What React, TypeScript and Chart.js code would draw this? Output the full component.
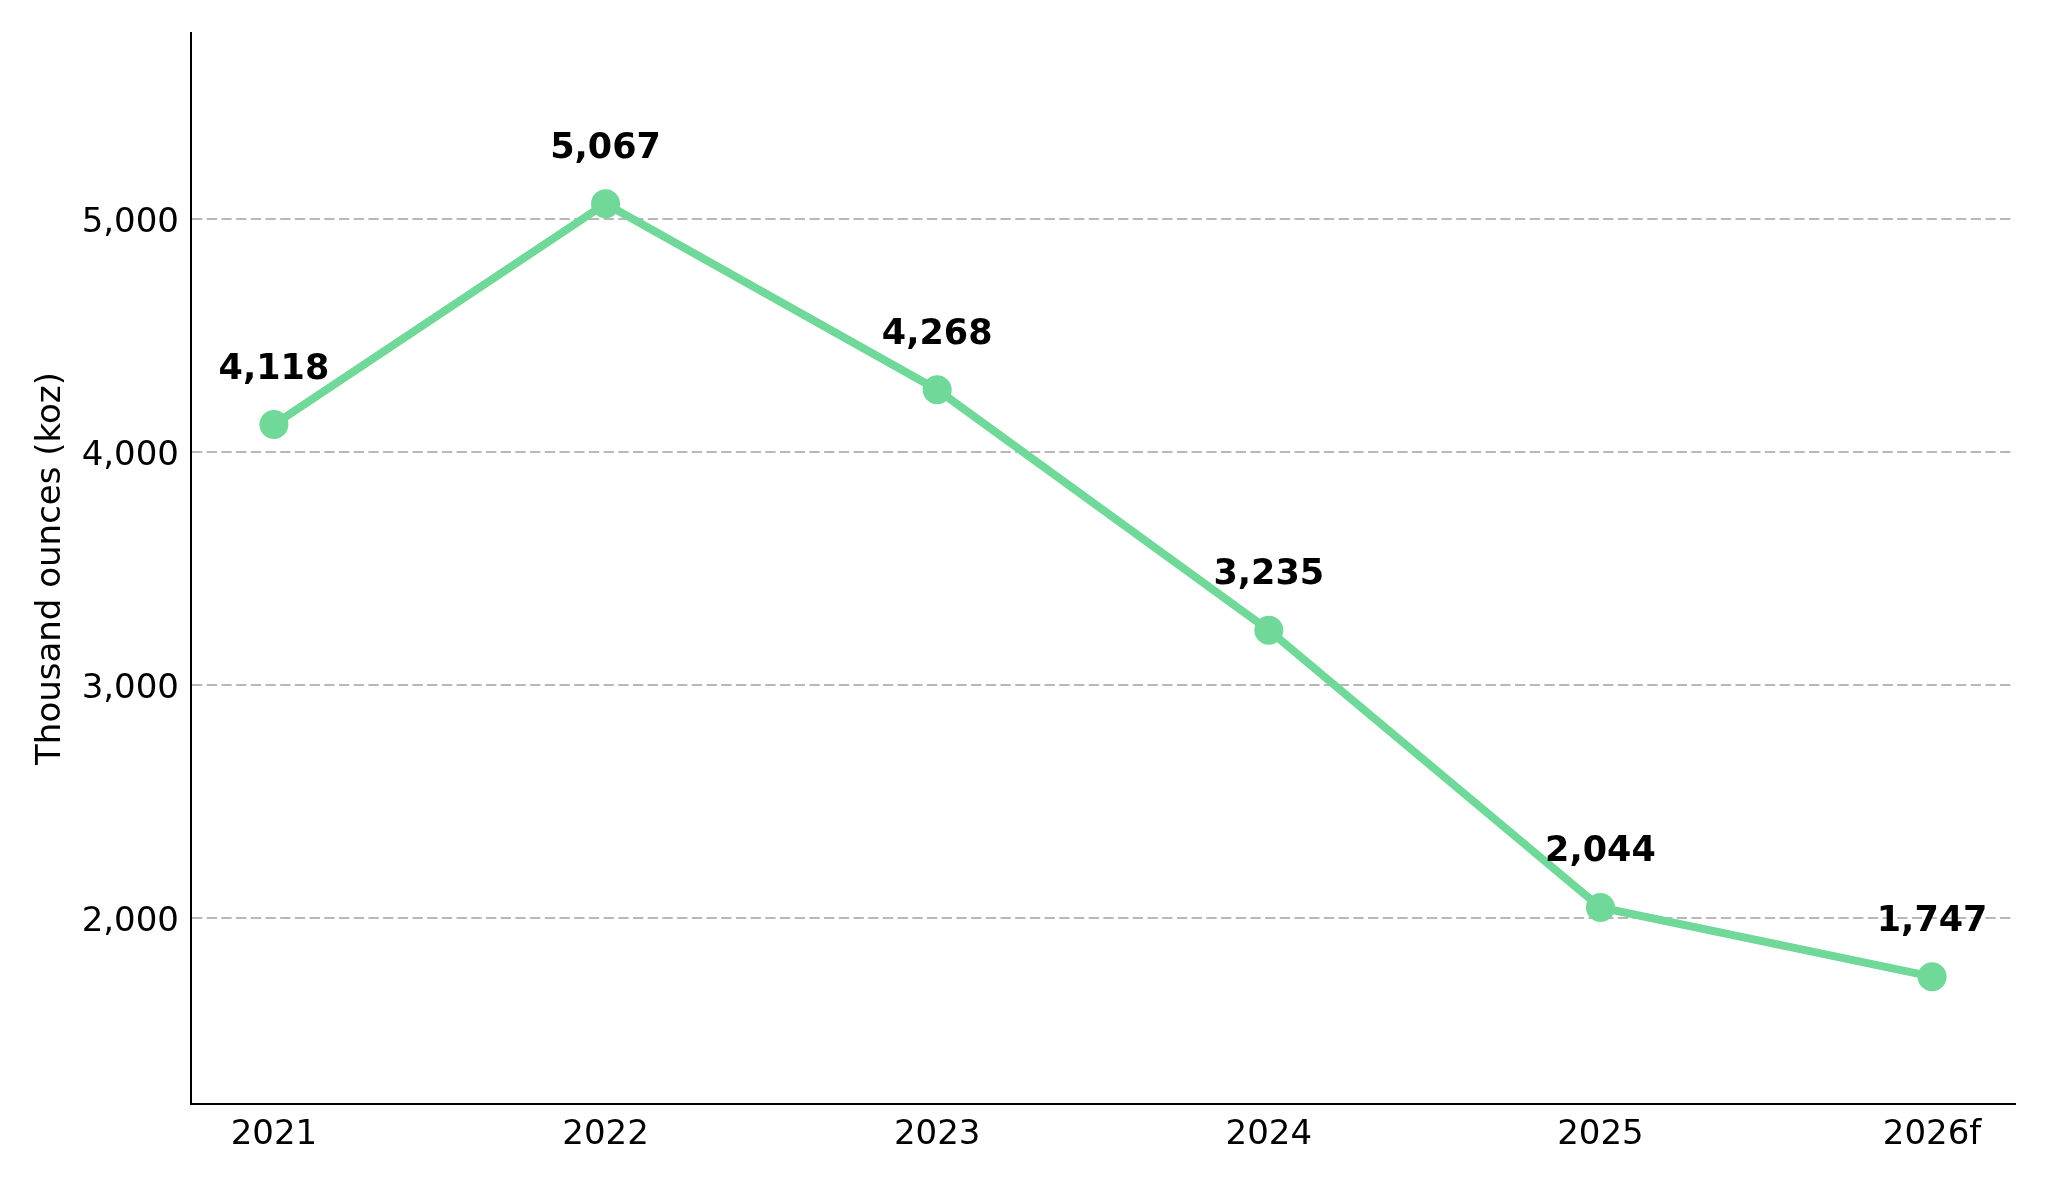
import React, { useEffect, useRef } from "react";
import { Chart, registerables } from "chart.js";

Chart.register(...registerables);

const years = ["2021", "2022", "2023", "2024", "2025", "2026f"];
const production = [4118, 5067, 4268, 3235, 2044, 1747];
const yTicks = [2000, 3000, 4000, 5000];

const GREEN = "#70d898";
const FONT = "'DejaVu Sans', sans-serif";

const fmt = (v: number) => v.toLocaleString("en-US");

const pointLabels = {
  id: "pointLabels",
  afterDatasetsDraw(chart: any) {
    const ctx = chart.ctx;
    const meta = chart.getDatasetMeta(0);
    ctx.save();
    ctx.font = `bold 35px ${FONT}`;
    ctx.fillStyle = "#000";
    ctx.textAlign = "center";
    ctx.textBaseline = "alphabetic";
    meta.data.forEach((pt: any, i: number) => {
      ctx.fillText(fmt(production[i]), pt.x, pt.y - 46);
    });
    ctx.restore();
  },
};

const LineChart: React.FC = () => {
  const canvasRef = useRef<HTMLCanvasElement | null>(null);

  useEffect(() => {
    document.body.style.margin = "0";
    const ctx = canvasRef.current?.getContext("2d");
    if (!ctx) return;

    const chart = new Chart(ctx, {
      type: "line",
      data: {
        datasets: [
          {
            data: production.map((v, i) => ({ x: i, y: v })),
            borderColor: GREEN,
            backgroundColor: GREEN,
            borderWidth: 8,
            pointRadius: 14.5,
            pointBackgroundColor: GREEN,
            pointBorderWidth: 0,
            tension: 0,
            fill: false,
            clip: false,
          },
        ],
      },
      options: {
        animation: false,
        responsive: false,
        devicePixelRatio: 1,
        layout: { padding: { top: 33, right: 33, left: 0, bottom: 0 } },
        plugins: {
          legend: { display: false },
          tooltip: { enabled: false },
        },
        scales: {
          x: {
            type: "linear",
            min: -0.25,
            max: 5.25,
            afterBuildTicks: (scale: any) => {
              scale.ticks = years.map((_, i) => ({ value: i }));
            },
            afterFit: (scale: any) => {
              scale.height = 79;
            },
            grid: { display: false, drawTicks: false },
            border: { display: true, color: "#000", width: 2 },
            ticks: {
              padding: 11,
              color: "#000",
              font: { family: FONT, size: 34 },
              maxRotation: 0,
              callback: (v: any) => years[v] ?? "",
            },
          },
          y: {
            type: "linear",
            min: 1200,
            max: 5800,
            afterBuildTicks: (scale: any) => {
              scale.ticks = yTicks.map((v) => ({ value: v }));
            },
            afterFit: (scale: any) => {
              scale.width = 191;
            },
            grid: {
              color: "#b8b8b8",
              lineWidth: 2,
              drawTicks: false,
            },
            border: {
              display: true,
              color: "#000",
              width: 2,
              dash: [10.3, 4.4],
            },
            ticks: {
              padding: 12,
              labelOffset: 4,
              color: "#000",
              font: { family: FONT, size: 34 },
              callback: (v: any) => fmt(Number(v)),
            },
            title: {
              display: true,
              text: "Thousand ounces (koz)",
              color: "#000",
              font: { family: FONT, size: 34 },
              padding: { top: 31, bottom: 0 },
            },
          },
        },
      },
      plugins: [pointLabels],
    } as any);

    return () => {
      chart.destroy();
    };
  }, []);

  return (
    <div style={{ width: 2048, height: 1183 }}>
      <canvas ref={canvasRef} width="2048" height="1183"></canvas>
    </div>
  );
};

export default function App() {
  return <LineChart />;
}
